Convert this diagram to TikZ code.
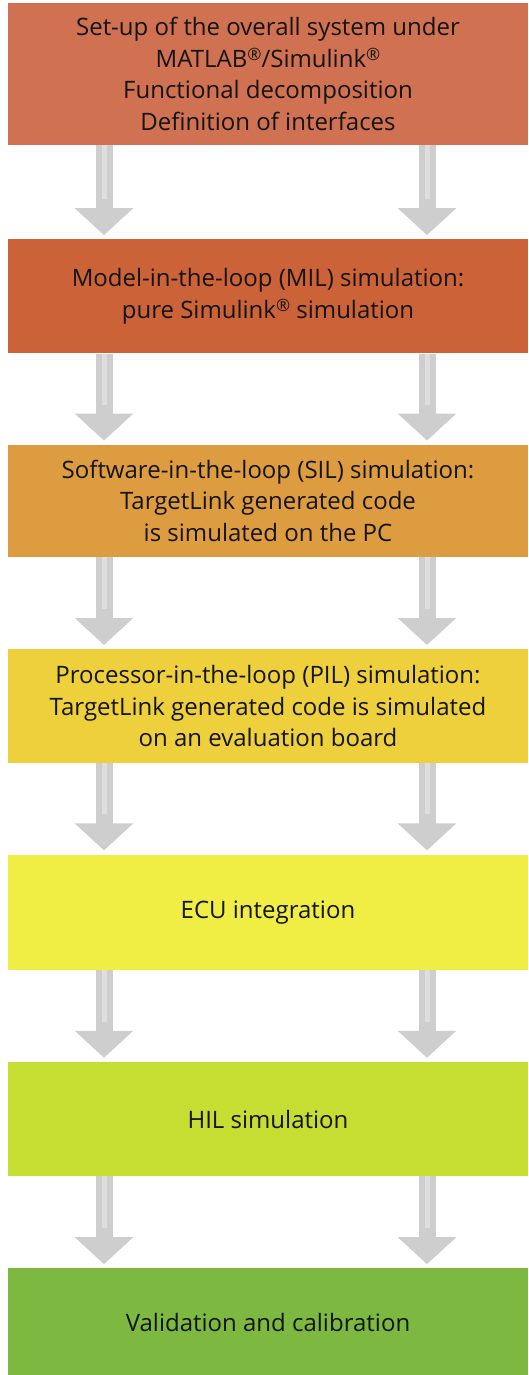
\documentclass[tikz,border=0pt]{standalone}
\usepackage{fontspec}
\setmainfont{Open Sans}
\usetikzlibrary{positioning, arrows.meta}

\definecolor{boxA}{RGB}{208,113,82}
\definecolor{boxB}{RGB}{204,98,56}
\definecolor{boxC}{RGB}{222,156,64}
\definecolor{boxD}{RGB}{237,208,60}
\definecolor{boxE}{RGB}{240,238,68}
\definecolor{boxF}{RGB}{198,221,50}
\definecolor{boxG}{RGB}{125,185,64}
\definecolor{arrowgray}{RGB}{206,206,206}
\definecolor{arrowlight}{RGB}{222,222,222}

\newcommand{\regmark}{\raisebox{0.55ex}{\fontsize{17}{17}\selectfont ®}}

\tikzset{
  stagebox/.style={minimum width=520pt, minimum height=114pt, inner sep=0pt,
    align=center, font=\fontsize{24}{31.5}\selectfont, text=black!92},
  flowarrow/.style={line width=17pt, draw=arrowgray,
    -{Triangle[width=57pt, length=27pt]}, shorten >=4pt, color=arrowgray},
  flowcore/.style={line width=5pt, draw=arrowlight, shorten >=40pt}
}

\begin{document}
\begin{tikzpicture}[x=1pt, y=1pt, node distance=92pt]
    \useasboundingbox (0,0) rectangle (528,-1375);

    \node[stagebox, fill=boxA, minimum height=142pt] (setup) at (268,-74)
        {Set-up of the overall system under\\ MATLAB\regmark/Simulink\regmark\\ Functional decomposition\\ Definition of interfaces};
    \node[stagebox, fill=boxB, below=94pt of setup] (mil)
        {Model-in-the-loop (MIL) simulation:\\ pure Simulink\regmark{} simulation};
    \node[stagebox, fill=boxC, below=91pt of mil, minimum height=112pt] (sil)
        {Software-in-the-loop (SIL) simulation:\\ TargetLink generated code\\ is simulated on the PC};
    \node[stagebox, fill=boxD, below=of sil] (pil)
        {Processor-in-the-loop (PIL) simulation:\\ TargetLink generated code is simulated\\ on an evaluation board};
    \node[stagebox, fill=boxE, below=91pt of pil, minimum height=115pt] (ecu) {ECU integration};
    \node[stagebox, fill=boxF, below=of ecu] (hil) {HIL simulation};
    \node[stagebox, fill=boxG, below=of hil, minimum height=109pt] (valid) {Validation and calibration};

    % arrows between the stages
    \foreach \a/\b in {setup/mil, mil/sil, sil/pil, pil/ecu, ecu/hil, hil/valid}{
        \foreach \xx in {104,427}{
            \draw[flowarrow] (\a.south -| \xx,0) -- (\b.north -| \xx,0);
            \draw[flowcore] (\a.south -| \xx,0) -- (\b.north -| \xx,0);
        }
    }
\end{tikzpicture}
\end{document}
